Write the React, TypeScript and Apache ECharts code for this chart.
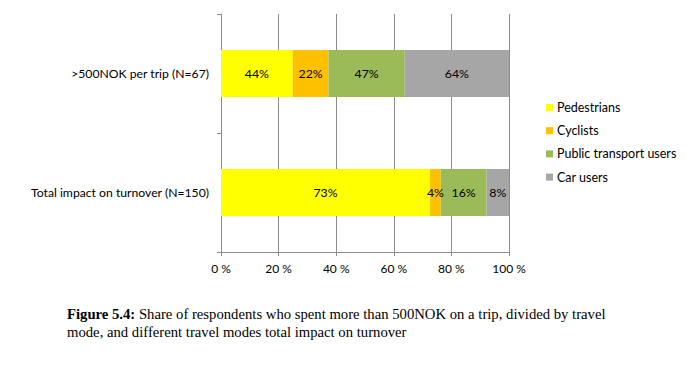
import React, { useEffect, useRef } from "react";
import * as echarts from "echarts";

const categories = [">500NOK per trip (N=67)", "Total impact on turnover (N=150)"];
const seriesNames = ["Pedestrians", "Cyclists", "Public transport users", "Car users"];
// bar widths (share of stacked bar, %)
const pedestrians = [24.9, 72.6];
const cyclists = [12.4, 3.7];
const publicTransport = [26.5, 15.9];
const carUsers = [36.2, 7.8];
// printed labels
const pedLabels = ["44%", "73%"];
const cycLabels = ["22%", "4%"];
const ptLabels = ["47%", "16%"];
const carLabels = ["64%", "8%"];
const xTicks = [0, 20, 40, 60, 80, 100];

const colors = ["#FFFF00", "#FFC000", "#9BBB59", "#A6A6A6"];
const FONT = "Lato, 'Open Sans', sans-serif";

export default function App() {
  const ref = useRef<HTMLDivElement>(null);
  useEffect(() => {
    document.body.style.margin = "0";
    const chart = echarts.init(ref.current!, null, { renderer: "svg" });
    const values = [pedestrians, cyclists, publicTransport, carUsers];
    const labels = [pedLabels, cycLabels, ptLabels, carLabels];
    chart.setOption({
      animation: false,
      textStyle: { fontFamily: FONT },
      grid: { left: 221, right: 178, top: 14, bottom: 116 },
      xAxis: {
        type: "value",
        min: xTicks[0],
        max: xTicks[xTicks.length - 1],
        interval: 20,
        axisLine: { show: true, lineStyle: { color: "#8c8c8c", width: 1 } },
        axisTick: { show: true, length: 4, lineStyle: { color: "#8c8c8c" } },
        splitLine: { show: true, lineStyle: { color: "#8c8c8c", width: 1 } },
        axisLabel: {
          formatter: "{value} %",
          color: "#000",
          fontSize: 12,
          margin: 10,
          fontFamily: FONT,
        },
      },
      yAxis: {
        type: "category",
        data: categories,
        inverse: true,
        axisLine: { show: true, lineStyle: { color: "#8c8c8c", width: 1 } },
        axisTick: { show: true, length: 4, lineStyle: { color: "#8c8c8c" } },
        axisLabel: { color: "#000", fontSize: 12.2, margin: 12, fontFamily: FONT },
      },
      legend: {
        orient: "vertical",
        left: 546,
        top: 101,
        padding: 0,
        itemWidth: 7,
        itemHeight: 7,
        itemGap: 10.2,
        icon: "rect",
        textStyle: { color: "#000", fontSize: 12.5, fontFamily: FONT, padding: [0, 0, 0, -1] },
        data: seriesNames,
      },
      series: seriesNames.map((name, i) => ({
        name,
        type: "bar",
        stack: "total",
        barWidth: 47,
        itemStyle: { color: colors[i] },
        label: {
          show: true,
          position: "inside",
          color: "#000",
          fontSize: 12.3,
          fontFamily: FONT,
          formatter: (p: any) => labels[i][p.dataIndex],
        },
        data: values[i],
      })),
      graphic: [
        {
          type: "text",
          left: 67,
          top: 305,
          style: {
            text: "{b|Figure 5.4:} Share of respondents who spent more than 500NOK on a trip, divided by travel\nmode, and different travel modes total impact on turnover",
            font: "14.7px 'Liberation Serif', 'Times New Roman', serif",
            fill: "#000",
            lineHeight: 18,
            rich: {
              b: {
                fontWeight: "bold",
                fontSize: 14.7,
                fontFamily: "'Liberation Serif', 'Times New Roman', serif",
                fill: "#000",
              },
            },
          },
        },
      ],
    });
    return () => chart.dispose();
  }, []);
  return <div ref={ref} style={{ width: 687, height: 368 }} />;
}
